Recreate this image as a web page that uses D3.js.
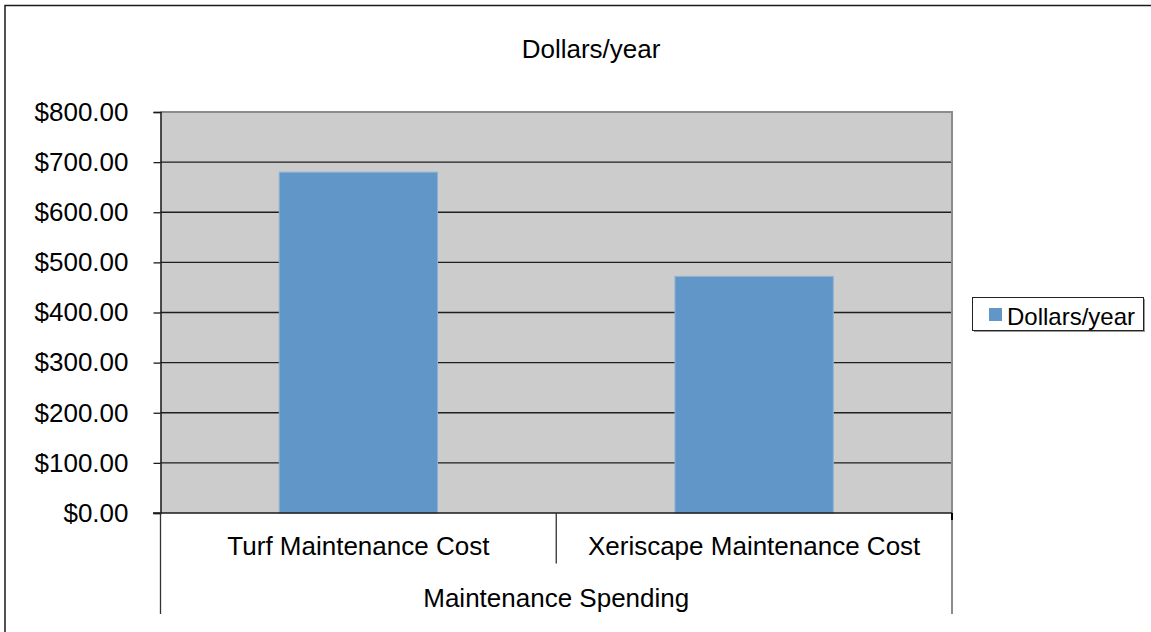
<!DOCTYPE html>
<html>
<head>
<meta charset="utf-8">
<script src="https://cdn.jsdelivr.net/npm/d3@7"></script>
<style>
  html, body { margin: 0; padding: 0; background: #fff; }
  svg { display: block; font-family: "Liberation Sans", Arial, sans-serif; }
</style>
</head>
<body>
<svg id="chart" width="1151" height="632"></svg>
<script>
// Annual maintenance spending
const categories = ["Turf Maintenance Cost", "Xeriscape Maintenance Cost"];
const groupLabel = "Maintenance Spending";
const seriesName = "Dollars/year";
const values = [680, 472];
const yTicks = [0, 100, 200, 300, 400, 500, 600, 700, 800];

const svg = d3.select("#chart");

const plot = { left: 160.5, right: 952, top: 112, bottom: 513 };

const y = d3.scaleLinear().domain([0, 800]).range([plot.bottom, plot.top]);
const x = d3.scaleBand()
  .domain(categories)
  .range([plot.left, plot.right])
  .paddingInner(0.6)
  .paddingOuter(0.3);
const xCat = d3.scaleBand().domain(categories).range([plot.left, plot.right]);

const money = d3.format("$,.2f");

// outer chart frame (top and left edges)
svg.append("path")
  .attr("d", `M5,632 L5,5.5 L1151,5.5`)
  .attr("fill", "none")
  .attr("stroke", "#1a1a1a")
  .attr("stroke-width", 1.5);

// title
svg.append("text")
  .attr("x", 591)
  .attr("y", 58)
  .attr("text-anchor", "middle")
  .attr("font-size", 26)
  .attr("fill", "#000")
  .text(seriesName);

// plot background
svg.append("rect")
  .attr("x", plot.left)
  .attr("y", plot.top)
  .attr("width", plot.right - plot.left)
  .attr("height", plot.bottom - plot.top)
  .attr("fill", "#cccccc");

// gridlines
svg.append("g")
  .selectAll("line")
  .data(yTicks.filter(d => d > 0 && d < 800))
  .join("line")
  .attr("x1", plot.left)
  .attr("x2", plot.right)
  .attr("y1", d => y(d))
  .attr("y2", d => y(d))
  .attr("stroke", "#1e1e1e")
  .attr("stroke-width", 1.4);

// plot border (top and right)
svg.append("path")
  .attr("d", `M${plot.left},${plot.top} L${plot.right},${plot.top} L${plot.right},${plot.bottom}`)
  .attr("fill", "none")
  .attr("stroke", "#8c8c8c")
  .attr("stroke-width", 2);

// bars
svg.append("g")
  .selectAll("rect")
  .data(values)
  .join("rect")
  .attr("x", (d, i) => x(categories[i]))
  .attr("y", d => y(d))
  .attr("width", x.bandwidth())
  .attr("height", d => y(0) - y(d))
  .attr("fill", "#6196c8")
  .attr("stroke", "#8fb1d3")
  .attr("stroke-width", 1);

// y axis
const yAxis = d3.axisLeft(y)
  .tickValues(yTicks)
  .tickSize(7)
  .tickPadding(25)
  .tickFormat(money);

const gy = svg.append("g")
  .attr("transform", `translate(${plot.left},0)`)
  .call(yAxis);
gy.select(".domain")
  .attr("stroke", "#1a1a1a")
  .attr("stroke-width", 1.5);
gy.selectAll(".tick line").attr("stroke", "#1a1a1a").attr("stroke-width", 1.3);
gy.selectAll(".tick text")
  .attr("font-size", 26)
  .attr("font-family", "Liberation Sans, Arial, sans-serif")
  .attr("fill", "#000");

// category axis baseline
svg.append("line")
  .attr("x1", 153)
  .attr("x2", plot.right)
  .attr("y1", plot.bottom)
  .attr("y2", plot.bottom)
  .attr("stroke", "#1a1a1a")
  .attr("stroke-width", 1.5);

// category separators
const sepX = [plot.left, xCat(categories[1]), plot.right];
svg.append("g")
  .selectAll("line")
  .data(sepX)
  .join("line")
  .attr("x1", d => d)
  .attr("x2", d => d)
  .attr("y1", plot.bottom)
  .attr("y2", (d, i) => i === 1 ? 563.5 : 614)
  .attr("stroke", (d, i) => i === 2 ? "#8c8c8c" : "#333")
  .attr("stroke-width", (d, i) => i === 2 ? 2 : 1.3);
svg.append("line")
  .attr("x1", plot.right).attr("x2", plot.right)
  .attr("y1", plot.bottom).attr("y2", plot.bottom + 7)
  .attr("stroke", "#000").attr("stroke-width", 2);

// category labels
svg.append("g")
  .selectAll("text")
  .data(categories)
  .join("text")
  .attr("x", d => xCat(d) + xCat.bandwidth() / 2)
  .attr("y", 555)
  .attr("text-anchor", "middle")
  .attr("font-size", 26)
  .attr("fill", "#000")
  .text(d => d);

// group label
svg.append("text")
  .attr("x", (plot.left + plot.right) / 2)
  .attr("y", 607)
  .attr("text-anchor", "middle")
  .attr("font-size", 26)
  .attr("fill", "#000")
  .text(groupLabel);

// legend
const legend = svg.append("g");
legend.append("rect")
  .attr("x", 974).attr("y", 299)
  .attr("width", 171).attr("height", 33)
  .attr("fill", "#9a9a9a");
legend.append("rect")
  .attr("x", 972.5).attr("y", 297.5)
  .attr("width", 171).attr("height", 33)
  .attr("fill", "#fff")
  .attr("stroke", "#222")
  .attr("stroke-width", 1);
legend.append("rect")
  .attr("x", 989).attr("y", 308)
  .attr("width", 13).attr("height", 13)
  .attr("fill", "#6196c8");
legend.append("text")
  .attr("x", 1007)
  .attr("y", 324.5)
  .attr("font-size", 24)
  .attr("fill", "#000")
  .text(seriesName);
</script>
</body>
</html>
